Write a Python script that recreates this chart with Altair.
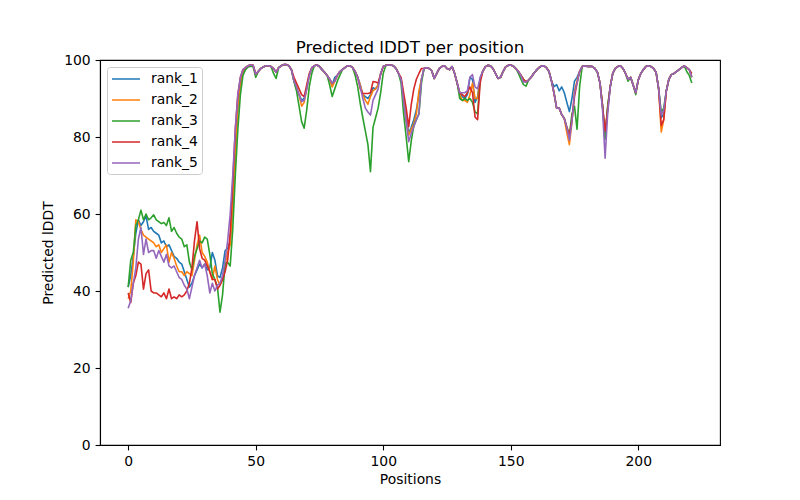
import altair as alt
import pandas as pd

positions = list(range(222))
names = ["rank_1", "rank_2", "rank_3", "rank_4", "rank_5"]
colors = ["#1f77b4", "#ff7f0e", "#2ca02c", "#d62728", "#9467bd"]

rank_1 = [
    41, 44, 49, 55, 58.5, 57, 58, 59.5, 56, 56.5,
    55.5, 55, 54.5, 52.5, 53, 51.5, 52, 50.5, 49, 48.5,
    47.5, 47, 45, 43, 41, 42, 44, 45.5, 47, 46,
    47, 45.5, 46, 50, 48, 44, 43.5, 46, 50.5, 51,
    53, 63, 77, 88, 94, 97, 98, 98.5, 98.7, 98.6,
    96.3, 97, 97.8, 98.2, 98.5, 98.5, 98.3, 97.8, 96.8, 98,
    98.5, 98.8, 98.8, 98.5, 97.5, 94.5, 92.5, 91, 89.5, 90,
    92.5, 96, 98, 98.5, 98.7, 98.3, 97.5, 96.8, 96, 95,
    93.5, 95.5, 96, 97, 97.5, 98, 98.5, 98.5, 98, 97,
    95.5, 93.5, 91, 90.5, 90, 91, 92.8, 92.5, 93.5, 96.5,
    98.3, 98.6, 98.7, 98.7, 98.5, 97.8, 96.5, 95, 90, 85,
    81, 82.5, 84.5, 87, 91, 95, 97.8, 98, 97.8, 97.2,
    95.2, 96.5, 97.8, 98.3, 98.5, 97.8, 97.5, 98.3, 96.5, 94,
    91.5, 90.5, 90, 91, 95.5, 95, 89, 90.5, 95, 97,
    98.2, 98.6, 98.5, 97.8, 96.5, 95.2, 95.5, 97, 98.2, 98.6,
    98.7, 98.4, 97.8, 97, 96, 95, 94.3, 94.8, 95.5, 96.5,
    97.3, 98, 98.4, 98.5, 98, 97, 94.5, 93.1, 93.6, 92,
    93, 91.5, 89, 86.6, 90, 94.5, 95.5, 97, 98.3, 98.5,
    98.3, 98.4, 98.3, 97.8, 96.8, 94, 88, 79.5, 87.5, 93,
    96.5, 97.8, 98.3, 98.5, 97.8, 96.5, 95, 95.5, 93.5, 91.5,
    94.8, 96.5, 97.5, 98.3, 98.5, 98.3, 97.8, 96.8, 92.5, 85,
    86, 92, 95, 96.2, 96.5, 97, 97.5, 98, 98.5, 98,
    97.5, 95.5,
]

rank_2 = [
    38, 40, 47.5, 58.5, 58, 56, 54.5, 54, 53.5, 53,
    52.5, 51.5, 52, 50, 51, 52, 47.5, 50, 48.5, 46.5,
    45, 45, 44, 45, 44.5, 44, 48, 52, 54.5, 50,
    49, 47.5, 45, 43, 46.5, 43, 41.5, 43, 47, 50,
    52, 62, 76, 88, 94, 97, 98, 98.5, 98.7, 98.6,
    96.3, 97, 97.8, 98.2, 98.5, 98.5, 98.3, 97.8, 96.8, 98,
    98.5, 98.8, 98.8, 98.5, 97.5, 94.5, 93, 91, 88, 89,
    92.5, 96, 98, 98.5, 98.7, 98.3, 97.5, 96.8, 96, 95,
    93, 94.5, 96, 97, 97.5, 98, 98.5, 98.5, 98, 97,
    95.5, 93.5, 91, 89.5, 88.5, 90.5, 92, 92.5, 93.5, 96.5,
    98.3, 98.6, 98.7, 98.7, 98.5, 97.8, 96.5, 95, 89.5, 84,
    80.5, 82, 83.5, 86, 92, 95, 97.8, 98, 97.8, 97.2,
    95.2, 96.5, 97.8, 98.3, 98.5, 97.8, 97.5, 98.3, 96.5, 94,
    91, 89.5, 89.5, 89, 91, 94, 90, 90, 95, 97,
    98.2, 98.6, 98.5, 97.8, 96.5, 95.2, 95.5, 97, 98.2, 98.6,
    98.7, 98.4, 97.8, 97, 96, 95, 94.3, 94.8, 95.5, 96.5,
    97.3, 98, 98.4, 98.5, 98, 97, 94.5, 91.3, 87.5, 87.5,
    85.8, 84.8, 81, 78, 84, 92, 94.5, 97, 98.3, 98.5,
    98.3, 98.4, 98.3, 97.8, 96.8, 94, 88, 80.5, 87.5, 93,
    96.5, 97.8, 98.3, 98.5, 97.8, 96.5, 95, 95.5, 93.5, 91.5,
    94.8, 96.5, 97.5, 98.3, 98.5, 98.3, 97.8, 96.8, 92.5, 81.3,
    84.5, 92, 95, 96.2, 96.5, 97, 97.5, 98, 98.5, 98,
    97.5, 95.5,
]

rank_3 = [
    41, 48, 50, 57, 58.5, 61, 58.5, 60, 58.5, 59,
    59.8, 58.5, 58, 57.5, 57.8, 57, 59, 55.5, 56.5, 55,
    54, 53.5, 51.5, 52, 47.5, 45.5, 49, 51, 53, 52.5,
    54, 53.5, 49.5, 44.5, 43, 41, 34.5, 39, 47, 47.5,
    46.5, 56, 70, 82, 91, 96, 97.5, 98.2, 98.4, 98.3,
    95.5, 97, 97.8, 98.2, 98.5, 98.5, 98.3, 96.5, 95.2, 98,
    98.5, 98.8, 98.8, 98.5, 97.5, 94.5, 92, 88, 84, 82.3,
    87, 93, 96.5, 98.5, 98.7, 98.3, 97.5, 96.8, 96, 93.5,
    90.5, 92.5, 94.5, 96, 97.5, 98, 98.5, 98.5, 98, 96,
    93, 88.7, 85, 81.5, 78, 71, 82.5, 85, 87.5, 91.5,
    96.5, 98.6, 98.7, 98.7, 98.5, 97.8, 96.5, 94, 86, 80,
    73.6, 79, 83, 84.5, 86, 94, 97.8, 98, 97.8, 97.2,
    95.2, 96.5, 97.8, 98.3, 98.5, 97.8, 97.5, 98.3, 96.5, 94,
    90, 89.5, 90, 89.5, 90, 89, 86.5, 86, 95, 97,
    98.2, 98.6, 98.5, 97.8, 96.5, 95.2, 95.5, 97, 98.2, 98.6,
    98.7, 98.4, 97.8, 96.5, 95, 93.6, 93.2, 94.8, 95.5, 96.5,
    97.3, 98, 98.4, 98.5, 98, 97, 94.5, 91.3, 87.5, 87.5,
    85.8, 84.8, 82.5, 80.5, 86, 88, 82, 93, 98.3, 98.5,
    98.3, 98.4, 98.3, 97.8, 96.8, 94, 88, 79.5, 88, 93,
    96.5, 97.8, 98.3, 98.5, 97.8, 96.5, 94.5, 95.5, 93.5, 91,
    94.8, 96.5, 97.5, 98.3, 98.5, 98.3, 97.8, 96.8, 92.5, 86.5,
    87.5, 92, 95, 96.2, 96.5, 97, 97.5, 98, 98.5, 97,
    96, 94,
]

rank_4 = [
    39.5, 37, 42, 44, 47.5, 47, 40.5, 44.5, 45.5, 40,
    39.5, 39.5, 39, 38.5, 39.5, 38, 40.5, 38, 38.5, 38,
    39, 38.5, 39, 40, 42, 46, 53, 58, 51, 48.5,
    48, 46.5, 45, 43, 43, 40.5, 41.5, 43, 45, 48,
    55, 68, 82, 91, 95.5, 97.5, 98, 98.5, 98.7, 98.6,
    96.3, 97, 97.8, 98.2, 98.5, 98.5, 98.3, 97.8, 96.8, 98,
    98.5, 98.8, 98.8, 98.5, 97.5, 95.5, 94, 92.5, 91, 90.5,
    93.5, 96.5, 98, 98.5, 98.7, 98.3, 97.5, 96.8, 96, 95,
    94, 94.5, 96, 97, 97.5, 98, 98.5, 98.5, 98, 97,
    95.5, 92.5, 91.3, 91.3, 91.3, 91.5, 94.4, 94.3, 94, 96.3,
    98.3, 98.6, 98.7, 98.7, 98.5, 97.8, 96.5, 95.5, 91.5, 87.5,
    82.7, 88.5, 92.5, 95, 96.5, 97.8, 97.8, 98, 97.8, 97.2,
    95.2, 96.5, 97.8, 98.3, 98.5, 97.8, 97.5, 98.3, 96.5, 94,
    91.5, 91, 90.5, 91.5, 93, 91.5, 85.2, 84.5, 94, 97,
    98.2, 98.6, 98.5, 97.8, 96.5, 95.2, 95.5, 97, 98.2, 98.6,
    98.7, 98.4, 97.8, 97, 96, 95, 94.3, 94.8, 95.5, 96.5,
    97.3, 98, 98.4, 98.5, 98, 97, 94.5, 91.3, 87.5, 87.5,
    85.8, 84.8, 82.5, 80.5, 84.5, 90.5, 94, 97, 98.3, 98.5,
    98.3, 98.4, 98.3, 97.8, 96.8, 94, 88, 81.5, 87, 93,
    96.5, 97.8, 98.3, 98.5, 97.8, 96.5, 95, 95.5, 93.5, 91.5,
    94.8, 96.5, 97.5, 98.3, 98.5, 98.3, 97.8, 96.8, 92.5, 83,
    84.5, 92, 95, 96.2, 96.5, 97, 97.5, 98, 98.5, 98,
    97.5, 96.5,
]

rank_5 = [
    35.5, 37.5, 42, 46, 53.5, 56.5, 49.5, 53.5, 50, 50.5,
    50.5, 48.5, 50.5, 49, 47.5, 49.5, 46.5, 46, 46.5, 45,
    43.5, 43, 41.5, 40.5, 38, 41, 44, 46, 48, 46,
    47, 44, 39.5, 42, 40, 41.5, 42, 44, 48, 53,
    60, 70, 82, 91, 95.5, 97.5, 98, 98.5, 98.7, 98.6,
    96.3, 97, 97.8, 98.2, 98.5, 98.5, 98.3, 97.8, 96.8, 98,
    98.5, 98.8, 98.8, 98.5, 97.5, 94.5, 93, 91, 89.2, 89.5,
    92.5, 96, 98, 98.5, 98.7, 98.3, 97.5, 96.8, 96, 95,
    94, 94.5, 96, 97, 97.5, 98, 98.5, 98.5, 98, 97,
    95.5, 93, 90, 87.5, 86.5, 85.7, 89.5, 91, 92.5, 96.5,
    98.3, 98.6, 98.7, 98.7, 98.5, 97.8, 96.5, 95, 89, 84,
    78.8, 81, 82.7, 84.5, 86, 95, 97.8, 98, 97.8, 97.2,
    95.2, 96.5, 97.8, 98.3, 98.5, 97.8, 97.5, 98.3, 96.5, 94,
    91.5, 91.5, 91.5, 92, 95.5, 96.2, 93, 92.5, 95.5, 97,
    98.2, 98.6, 98.5, 97.8, 96.5, 95.2, 95.5, 97, 98.2, 98.6,
    98.7, 98.4, 97.8, 97, 96, 94.3, 94.3, 94.8, 95.5, 96.5,
    97.3, 98, 98.4, 98.5, 98, 97, 94.5, 91.3, 87.5, 87.5,
    85.8, 84.8, 82.5, 79.2, 84, 91.5, 94, 97, 98.3, 98.5,
    98.3, 98.4, 98.3, 97.8, 96.8, 94, 87, 74.5, 86, 93,
    96.5, 97.8, 98.3, 98.5, 97.8, 96.5, 95, 95.5, 93.5, 91.5,
    94.8, 96.5, 97.5, 98.3, 98.5, 98.3, 97.8, 96.8, 92.5, 85.7,
    87, 92, 95, 96.2, 96.5, 97, 97.5, 98, 98.5, 98,
    97.5, 95.5,
]

series = {"rank_1": rank_1, "rank_2": rank_2, "rank_3": rank_3,
          "rank_4": rank_4, "rank_5": rank_5}
rows = []
for i, name in enumerate(names):
    for p, v in zip(positions, series[name]):
        rows.append({"Positions": p, "lDDT": v, "model": name, "k": i})
df = pd.DataFrame(rows)

FONT = "DejaVu Sans"

chart = alt.Chart(df).mark_line(strokeWidth=1.6, strokeJoin="round").encode(
    x=alt.X("Positions:Q",
            scale=alt.Scale(domain=[-11.05, 232.05], nice=False, zero=False),
            axis=alt.Axis(values=[0, 50, 100, 150, 200], title="Positions",
                          grid=False, labelFlush=False, titlePadding=4)),
    y=alt.Y("lDDT:Q",
            scale=alt.Scale(domain=[0, 100], nice=False),
            axis=alt.Axis(values=[0, 20, 40, 60, 80, 100], title="Predicted lDDT",
                          grid=False, titlePadding=8)),
    color=alt.Color("model:N",
                    scale=alt.Scale(domain=names, range=colors),
                    legend=alt.Legend(title=None, orient="none", legendX=7, legendY=7,
                                      symbolType="M-1,0H3", symbolSize=196,
                                      symbolStrokeWidth=1.5, labelOffset=24,
                                      labelFont=FONT, labelFontSize=13.9,
                                      labelColor="black", rowPadding=6,
                                      padding=4, strokeColor="#cccccc",
                                      fillColor="white", cornerRadius=3)),
    order=alt.Order("k:Q"),
).properties(
    width=620, height=385,
    title=alt.Title("Predicted lDDT per position", font=FONT, fontSize=16.7,
                    fontWeight="normal", color="black", anchor="middle",
                    baseline="alphabetic", offset=-17),
    autosize=alt.AutoSizeParams(type="none"),
    padding={"left": 92, "top": 52, "right": 72, "bottom": 47},
).configure_axis(
    labelFont=FONT, labelFontSize=13.9, labelColor="black",
    titleFont=FONT, titleFontSize=13.9, titleFontWeight="normal", titleColor="black",
    tickColor="black", tickSize=4.9, tickWidth=1.1, domainColor="black",
    domainWidth=1.1, labelPadding=4.9,
).configure_view(stroke="black", strokeWidth=1.1)

chart.save("out.html", embed_options={"renderer": "svg", "actions": False})
